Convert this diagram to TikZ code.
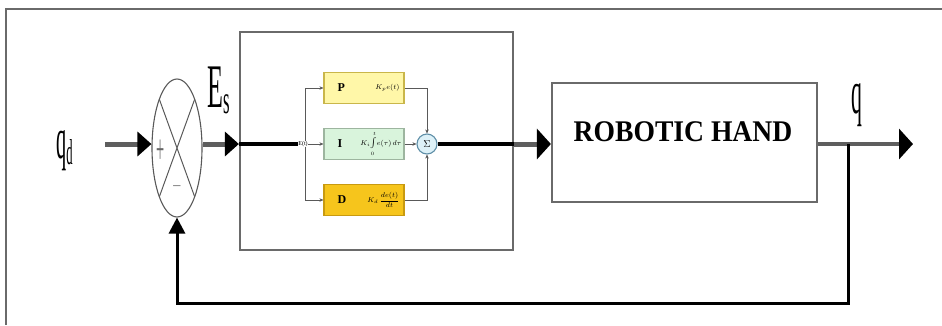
\documentclass[tikz,border=0pt]{standalone}
\usepackage{fontspec}
\setmainfont{Liberation Serif}
\usepackage{graphicx}
\usetikzlibrary{arrows.meta,shapes.geometric}

\definecolor{sigline}{HTML}{5E5E5E}
\definecolor{frameline}{HTML}{6A6A6A}
\definecolor{pfill}{HTML}{FFF7A8}
\definecolor{pline}{HTML}{C9B64A}
\definecolor{ifill}{HTML}{D9F4DC}
\definecolor{iline}{HTML}{9DB59F}
\definecolor{dfill}{HTML}{F6C51C}
\definecolor{dline}{HTML}{C89A10}
\definecolor{sfill}{HTML}{DDF1F8}
\definecolor{sline}{HTML}{5F8FA8}

\begin{document}
\begin{tikzpicture}[x=1pt,y=-1pt,
  sig/.style={draw=sigline, line width=5pt},
  blackline/.style={draw=black, line width=4.5pt},
  bigtip/.style={-{Triangle[length=14pt,width=24pt,fill=black,color=black]}},
  hugetip/.style={-{Triangle[length=14pt,width=30pt,fill=black,color=black]}},
  fbline/.style={draw=black, line width=3pt},
  fbtip/.style={-{Triangle[length=16pt,width=16pt,fill=black,color=black]}},
  thinline/.style={draw=gray!70!black, line width=0.6pt},
  thintip/.style={-{Stealth[length=4pt,width=3.5pt]}},
  blockbox/.style={draw=frameline, line width=2.2pt, fill=white},
  pidbox/.style={line width=1.2pt, minimum width=80pt, minimum height=31pt, inner sep=0pt},
  bigletter/.style={inner sep=0pt, font=\fontsize{12}{12}\selectfont\bfseries},
  formula/.style={inner sep=0pt, font=\fontsize{7}{7}\selectfont},
  tall/.style={inner sep=0pt},
]
\useasboundingbox (0,0) rectangle (942,325);

% outer frame (left and top edges)
\draw[frameline, line width=1.4pt] (6,325) -- (6,9) -- (942,9);

% reference signal level
\coordinate (mainy) at (0,144);

% summing junction
\node[ellipse, draw=gray!70!black, line width=1.1pt, minimum width=50pt,
      minimum height=138pt, inner sep=0pt,
      path picture={
        \draw[gray!70!black, line width=1pt]
          (path picture bounding box.north west) -- (path picture bounding box.south east)
          (path picture bounding box.north east) -- (path picture bounding box.south west);
      }] (sum) at (177,148) {};
\node[tall, text=gray!80!black] (plus) at (161,152)
  {\scalebox{0.9}[2.6]{\fontsize{16}{16}\selectfont +}};
\node[tall, text=gray!80!black] (minus) at (177,189)
  {\fontsize{16}{16}\selectfont −};

% input label and arrow
\node[tall, anchor=base west] (qd) at (56,158)
  {\scalebox{0.35}[1]{\fontsize{58}{58}\selectfont q\raisebox{-6pt}{\fontsize{36}{36}\selectfont d}}};
\coordinate (qin) at (105,144);
\draw[sig, bigtip] (qin) -- (sum.west |- mainy);

% error label
\node[tall, anchor=base west] (es) at (207,107)
  {\scalebox{0.42}[1]{\fontsize{62}{62}\selectfont E\raisebox{-6pt}{\fontsize{40}{40}\selectfont s}}};

% controller block
\node[blockbox, minimum width=273pt, minimum height=218pt, inner sep=0pt] (ctrl) at (376.5,141) {};
\draw[sig, bigtip] (sum.east |- mainy) -- (ctrl.west |- mainy);

% PID branches
\node[pidbox, draw=pline, fill=pfill] (P) at (364,88) {};
\node[pidbox, draw=iline, fill=ifill] (I) at (364,144) {};
\node[pidbox, draw=dline, fill=dfill] (D) at (364,200) {};

\node[bigletter, anchor=west] (Plab) at ([xshift=14pt]P.west) {P};
\node[formula, anchor=east] (Pf) at ([xshift=-5pt]P.east) {$K_p e(t)$};
\node[bigletter, anchor=west] (Ilab) at ([xshift=14pt]I.west) {I};
\node[formula, anchor=east] (If) at ([xshift=-3pt]I.east) {$K_i\!\int\limits_0^t\! e(\tau)\,d\tau$};
\node[bigletter, anchor=west] (Dlab) at ([xshift=14pt]D.west) {D};
\node[formula, anchor=east] (Df) at ([xshift=-5pt]D.east) {$K_d\,{\displaystyle\frac{de(t)}{dt}}$};

\coordinate (ptap) at (305,88);
\coordinate (dtap) at (305,200);
\draw[thinline] (ptap) -- (dtap);
\node[inner sep=0.6pt, fill=white, font=\fontsize{6}{6}\selectfont] (elab) at (303,144) {E(t)};
\draw[blackline] (ctrl.west |- mainy) -- (elab.west);
\draw[thinline, thintip] (ptap) -- (P.west);
\draw[thinline, thintip] (dtap) -- (D.west);
\draw[thinline, thintip] (elab.east) -- (I.west);

% summing point of the three terms
\node[circle, draw=sline, fill=sfill, line width=1.1pt, minimum size=20pt, inner sep=0pt,
      font=\fontsize{10}{10}\selectfont] (S) at (427,144) {$\Sigma$};
\draw[thinline, thintip] (P.east) -- (S.north |- P.east) -- (S.north);
\draw[thinline, thintip] (D.east) -- (S.south |- D.east) -- (S.south);
\draw[thinline, thintip] (I.east) -- (S.west);

% plant
\node[blockbox, minimum width=265pt, minimum height=119pt, inner sep=0pt] (rh) at (684.5,142.5) {};
\node[tall, font=\fontsize{30}{30}\selectfont\bfseries] (rhlab) at (683,132)
  {\scalebox{0.92}[1]{ROBOTIC HAND}};

\draw[blackline] (S.east) -- (ctrl.east |- S.east);
\draw[sig, hugetip] (ctrl.east |- S.east) -- (rh.west |- S.east);

% output
\coordinate (out) at (913,144);
\coordinate (tap) at (848,144);
\draw[sig, line width=4.5pt, hugetip] (rh.east |- mainy) -- (out);
\node[tall, anchor=base west] (qout) at (851,113)
  {\scalebox{0.35}[1]{\fontsize{62}{62}\selectfont q}};

% feedback path
\coordinate (fbc) at (848,303);
\draw[fbline, fbtip] (tap) -- (fbc) -| (sum.south);

\end{tikzpicture}
\end{document}
